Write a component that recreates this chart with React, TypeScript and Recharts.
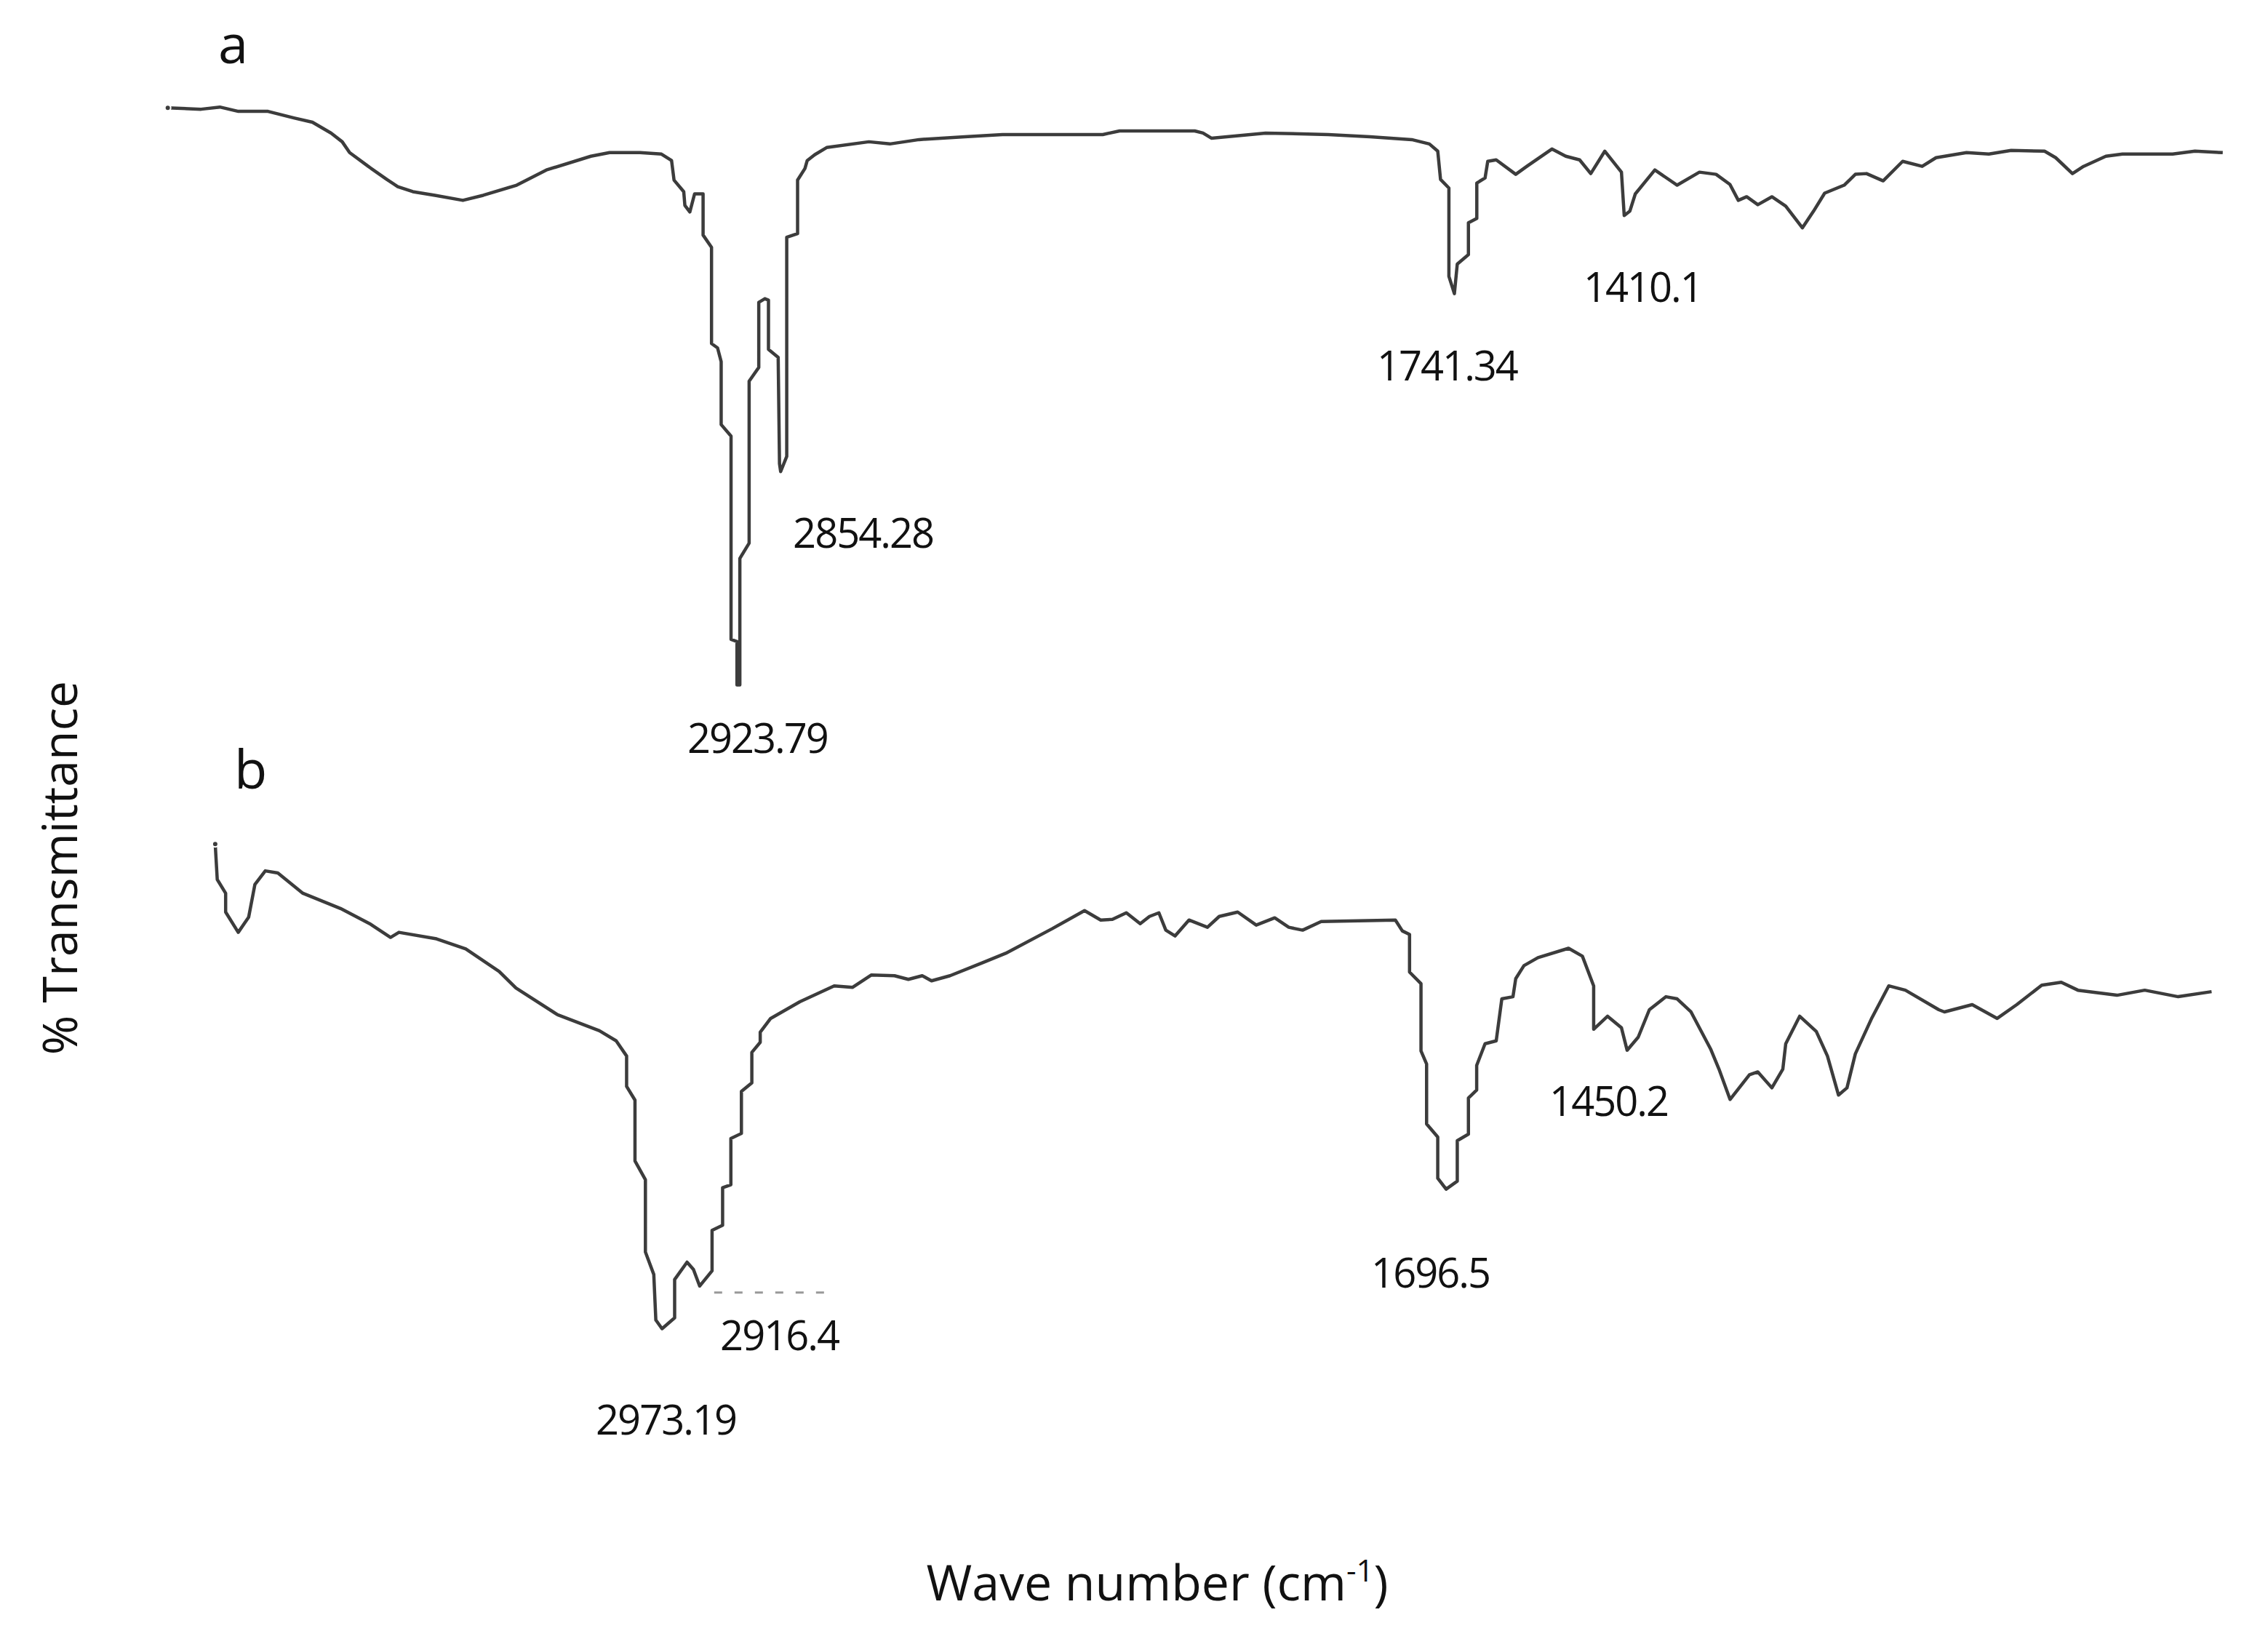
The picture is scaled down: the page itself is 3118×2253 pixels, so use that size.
import React from "react";
import { LineChart, Line, XAxis, YAxis, ReferenceDot, ReferenceLine } from "recharts";

const W = 3118;
const H = 2253;

// [wave number (cm-1), % transmittance]
const spectrumA: [number, number][] = [
  [3871.6, 85.1], [3816.4, 84.9], [3785.2, 85.2], [3754.5, 84.6], [3705.3, 84.6], [3662.3, 83.7],
  [3631.6, 83.1], [3600.6, 81.6], [3582.2, 80.4], [3569.9, 78.9], [3539, 77.0], [3508.2, 75.2],
  [3490, 74.2], [3465, 73.5], [3428.3, 73.0], [3382, 72.3], [3348.2, 73.0], [3292.7, 74.4],
  [3243.5, 76.5], [3169.6, 78.4], [3138.6, 78.9], [3088, 78.9], [3052.5, 78.7], [3035.7, 77.8],
  [3031.6, 75.1], [3015.5, 73.5], [3013.6, 71.6], [3005.4, 70.7], [2997.5, 73.2], [2983.4, 73.2],
  [2983.4, 67.5], [2969.4, 65.8], [2969.4, 52.5], [2959.4, 51.9], [2953.4, 50.0], [2953.4, 41.3],
  [2937, 39.7], [2937, 11.6], [2927.2, 11.3], [2927.2, 5.3], [2922.4, 5.3], [2922.4, 22.8],
  [2907, 24.9], [2907, 47.3], [2891, 49.2], [2891, 58.2], [2880.9, 58.7], [2874.9, 58.5],
  [2874.9, 51.7], [2858.8, 50.6], [2856.6, 35.9], [2854.7, 34.8], [2844.6, 36.9], [2844.6, 67.2],
  [2826.6, 67.7], [2826.6, 75.1], [2814.4, 76.7], [2810.6, 77.8], [2798.3, 78.6], [2778.4, 79.6],
  [2708.3, 80.4], [2673.5, 80.1], [2625, 80.7], [2549, 81.1], [2486.6, 81.4], [2320.2, 81.4],
  [2292.4, 81.9], [2167.6, 81.9], [2153.9, 81.6], [2140, 80.9], [2050, 81.6], [1946.1, 81.4],
  [1876.7, 81.1], [1807.6, 80.7], [1778.3, 80.1], [1764.4, 79.1], [1759.8, 75.2], [1745.9, 74.0],
  [1745.9, 61.8], [1736.8, 59.4], [1732, 63.5], [1713.5, 64.8], [1713.5, 69.2], [1699.6, 69.8],
  [1699.6, 74.7], [1685.9, 75.4], [1681.4, 77.7], [1667.4, 77.9], [1635, 75.9], [1616.6, 77.0],
  [1575, 79.4], [1552, 78.4], [1529, 77.9], [1510.5, 76.0], [1487.2, 79.1], [1459.6, 76.2],
  [1455, 70.2], [1445.7, 70.8], [1436.6, 73.2], [1404.2, 76.5], [1367.2, 74.4], [1330.2, 76.2],
  [1302.6, 75.9], [1279.6, 74.5], [1265.7, 72.3], [1251.8, 72.8], [1233.3, 71.7], [1210, 72.8],
  [1187, 71.5], [1159.4, 68.5], [1140.9, 70.8], [1122.4, 73.3], [1090, 74.4], [1071.5, 75.9],
  [1053, 76.0], [1025.4, 75.0], [993, 77.7], [960.6, 77.0], [937.6, 78.2], [887, 78.9],
  [850, 78.7], [813, 79.2], [757.6, 79.1], [739.1, 78.2], [711.3, 76.0], [692.8, 77.0],
  [655.8, 78.4], [628.2, 78.7], [545, 78.7], [508, 79.1], [461.9, 78.9],
];

const spectrumB: [number, number][] = [
  [3792.9, 83.3], [3789.5, 78.4], [3775.6, 76.5], [3775.6, 73.9], [3754.7, 71.1], [3737.4, 73.2],
  [3727.1, 77.7], [3709.8, 79.6], [3689, 79.3], [3647.4, 76.5], [3585, 74.4], [3536.6, 72.3],
  [3502, 70.4], [3488.1, 71.1], [3425.7, 70.2], [3377.2, 68.8], [3321.8, 65.7], [3293.9, 63.4],
  [3224.8, 59.7], [3155.4, 57.5], [3127.6, 56.1], [3110.3, 54.0], [3110.3, 49.8], [3096.4, 47.9],
  [3096.4, 39.5], [3079.1, 36.9], [3079.1, 26.9], [3065.2, 23.8], [3061.8, 17.5], [3051.5, 16.3],
  [3030.6, 17.8], [3030.6, 23.1], [3010, 25.5], [2999.4, 24.5], [2989.1, 22.2], [2968.5, 24.3],
  [2968.5, 29.9], [2951, 30.6], [2951, 35.8], [2937.3, 36.2], [2937.3, 42.6], [2919.8, 43.3],
  [2919.8, 49.1], [2902.5, 50.3], [2902.5, 54.5], [2888.6, 55.9], [2888.6, 57.3], [2871.3, 59.2],
  [2822.8, 61.5], [2765.9, 63.7], [2735.2, 63.5], [2704.5, 65.2], [2665.8, 65.1], [2642.8, 64.6],
  [2619.8, 65.1], [2604.4, 64.4], [2573.7, 65.1], [2519.7, 66.9], [2481.3, 68.2], [2404.2, 71.6],
  [2350.5, 74.1], [2323.6, 72.8], [2304.2, 72.9], [2281.1, 73.8], [2258.1, 72.3], [2242.7, 73.3],
  [2227.1, 73.8], [2215.6, 71.4], [2200.2, 70.6], [2177.2, 72.8], [2146.5, 71.8], [2127, 73.3],
  [2096.3, 73.9], [2065.6, 72.1], [2034.9, 73.1], [2011.6, 71.8], [1988.6, 71.4], [1957.8, 72.6],
  [1834.7, 72.8], [1823.2, 71.3], [1811.2, 70.8], [1811.2, 65.6], [1792.2, 64.0], [1792.2, 54.7],
  [1782.9, 52.9], [1782.9, 44.6], [1764.4, 42.8], [1764.4, 37.1], [1750.5, 35.6], [1732, 36.7],
  [1732, 42.3], [1713.5, 43.2], [1713.5, 48.2], [1699.8, 49.3], [1699.8, 52.7], [1685.9, 55.7],
  [1667.4, 56.1], [1658.1, 61.9], [1639.6, 62.2], [1635, 64.7], [1621.4, 66.5], [1598.1, 67.6],
  [1547.4, 68.9], [1524.4, 67.8], [1505.7, 63.7], [1505.7, 57.7], [1482.6, 59.5], [1459.6, 57.9],
  [1450.2, 54.8], [1431.8, 56.6], [1413.3, 60.4], [1385.7, 62.2], [1367.2, 61.9], [1344.2, 60.1],
  [1311.8, 55.0], [1297.8, 52.2], [1279.4, 48.0], [1247.2, 51.4], [1233.3, 51.8], [1210, 49.6],
  [1191.8, 52.2], [1187, 55.7], [1163.9, 59.5], [1136.3, 57.4], [1117.8, 54.0], [1099.4, 48.6],
  [1085.4, 49.6], [1071.5, 54.3], [1043.9, 59.3], [1016.1, 63.7], [988.5, 63.1], [933, 60.4],
  [923.7, 60.1], [877.6, 61.1], [836.1, 59.2], [803.7, 61.1], [762.2, 63.8], [729.8, 64.2],
  [702.2, 63.1], [637.4, 62.4], [591.3, 63.1], [535.8, 62.2], [480.4, 62.9],
];

// peak annotations: text starts at wn, baseline at t
const peakLabelsA = [
  { text: "2923.79", wn: 3009.5, t: -4.1 },
  { text: "2854.28", wn: 2834.3, t: 24.3 },
  { text: "1741.34", wn: 1865.2, t: 47.4 },
  { text: "1410.1", wn: 1522.5, t: 58.3 },
];
const peakLabelsB = [
  { text: "2916.4", wn: 2955, t: 13.3 },
  { text: "2973.19", wn: 3161.4, t: 1.7 },
  { text: "1696.5", wn: 1874.8, t: 22.0 },
  { text: "1450.2", wn: 1579.1, t: 45.7 },
];
const panelLabels = [
  { text: "a", axis: "a", wn: 3787.9, t: 91.3 },
  { text: "b", axis: "b", wn: 3761.4, t: 91.0 },
];
const dashB = { from: 2965, to: 2768, t: 21.3 };

const toRows = (pts: [number, number][]) => pts.map(([wn, t]) => ({ wn, t }));
const rowsA = toRows(spectrumA);
const rowsB = toRows(spectrumB);

const FONT = "'Open Sans', sans-serif";

const textShape = (text: string, size: number, spacing: number) => (p: any) => (
  <text
    x={p.cx}
    y={p.cy}
    fontFamily={FONT}
    fontSize={size}
    letterSpacing={spacing}
    fill="#111"
    textAnchor="start"
  >
    {text}
  </text>
);

const App = () => {
  return (
    <div style={{ position: "absolute", left: 0, top: 0, width: W, height: H, background: "#fff" }}>
      <LineChart width={W} height={H} margin={{ top: 0, right: 0, bottom: 0, left: 0 }}>
        <XAxis
          type="number"
          dataKey="wn"
          domain={[386.8, 4150]}
          reversed
          allowDataOverflow
          hide
        />
        <YAxis yAxisId="a" type="number" domain={[-126.6, 100]} allowDataOverflow hide />
        <YAxis yAxisId="b" type="number" domain={[-26.6, 200]} allowDataOverflow hide />
        <Line
          yAxisId="a"
          data={rowsA}
          dataKey="t"
          type="linear"
          stroke="#3c3c3c"
          strokeWidth={4.5}
          strokeLinejoin="round"
          dot={false}
          isAnimationActive={false}
        />
        <Line
          yAxisId="b"
          data={rowsB}
          dataKey="t"
          type="linear"
          stroke="#3c3c3c"
          strokeWidth={4.5}
          strokeLinejoin="round"
          dot={false}
          isAnimationActive={false}
        />
        <ReferenceLine
          yAxisId="b"
          segment={[
            { x: dashB.from, y: dashB.t },
            { x: dashB.to, y: dashB.t },
          ]}
          stroke="#999"
          strokeWidth={3}
          strokeDasharray="11 17"
        />
        {peakLabelsA.map((l) => (
          <ReferenceDot
            key={l.text}
            yAxisId="a"
            x={l.wn}
            y={l.t}
            r={0}
            shape={textShape(l.text, 56, -2)}
          />
        ))}
        {peakLabelsB.map((l) => (
          <ReferenceDot
            key={l.text}
            yAxisId="b"
            x={l.wn}
            y={l.t}
            r={0}
            shape={textShape(l.text, 56, -2)}
          />
        ))}
        {panelLabels.map((l) => (
          <ReferenceDot
            key={l.text}
            yAxisId={l.axis}
            x={l.wn}
            y={l.t}
            r={0}
            shape={textShape(l.text, 74, 0)}
          />
        ))}
      </LineChart>
      <svg
        width={W}
        height={H}
        style={{ position: "absolute", left: 0, top: 0, pointerEvents: "none" }}
      >
        <text
          x={80}
          y={1193}
          transform="rotate(-90 80 1193)"
          textAnchor="middle"
          dominantBaseline="central"
          fontFamily={FONT}
          fontSize={66}
          fill="#111"
        >
          % Transmittance
        </text>
        <text x={1591} y={2200} textAnchor="middle" fontFamily={FONT} fontSize={68} fill="#111">
          Wave number (cm
          <tspan dy={-26} fontSize={42}>-1</tspan>
          <tspan dy={26}>)</tspan>
        </text>
      </svg>
    </div>
  );
};

export default App;
